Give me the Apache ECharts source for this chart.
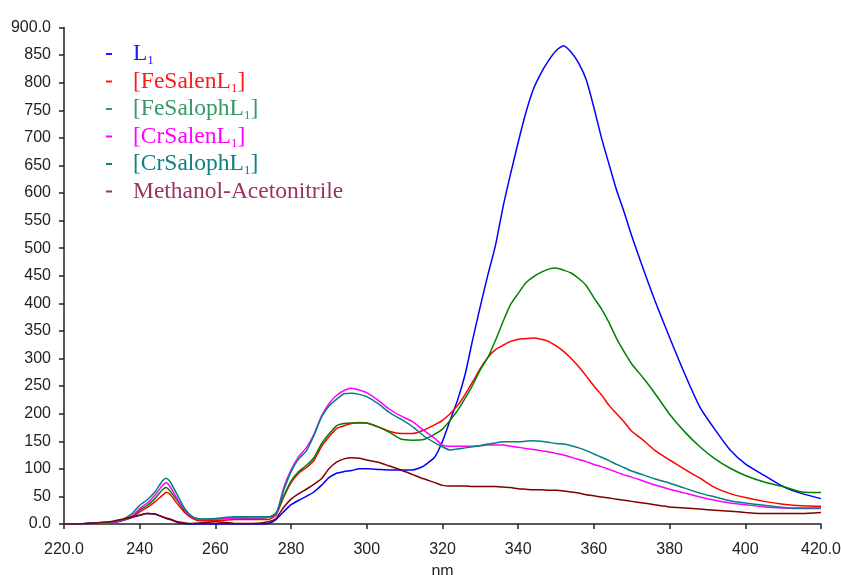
<!DOCTYPE html>
<html>
<head>
<meta charset="utf-8">
<script src="https://cdn.jsdelivr.net/npm/echarts@6/dist/echarts.min.js"></script>
<style>html,body{margin:0;padding:0;background:#fff}#c{width:841px;height:575px}</style>
</head>
<body>
<div id="c"></div>
<script>
const wavelengths = [220,224,228,232,235,238,240,242,244,246,247,248,250,252,254,256,260,265,270,274,276,278,280,282,284,286,288,290,292,294,296,298,300,303,306,309,312,315,318,320,322,324,326,328,330,332,334,336,338,340,342,344,346,348,350,352,354,356,358,360,362,364,366,368,370,373,376,380,384,388,392,396,400,405,410,415,420];

const seriesNames = ['L1','[FeSalenL1]','[FeSalophL1]','[CrSalenL1]','[CrSalophL1]','Methanol-Acetonitrile'];
const lineColors = ['#0000ff','#ff0000','#008000','#ff00ff','#008080','#800000'];
const legendColors = ['#1a1aff','#ff1a1a','#339966','#ff00ff','#0d8080','#993366'];

const valuesL1 = [0,0,2,3,5,12,16,19,18,13,10,8,3,0,0,0,0,0,0,1,8,22,35,43,50,58,70,84,92,95,97,100,100,99,98,98,98,105,122,150,188,225,272,335,395,452,505,575,635,692,745,788,817,840,858,867,855,835,805,755,700,652,605,565,522,463,407,338,272,212,171,134,109,88,68,55,46];
const valuesFeSalen = [0,0,1,2,6,12,22,30,40,52,57,54,36,20,10,6,6,8,8,8,16,48,75,92,102,115,140,158,173,178,182,184,183,176,168,164,164,170,180,188,200,215,235,258,282,302,316,324,331,335,336,337,335,331,323,313,300,285,268,250,234,215,200,185,168,152,134,116,99,83,66,55,48,41,36,33,32];
const valuesFeSaloph = [0,0,1,2,6,13,25,34,46,62,66,60,42,22,12,8,9,11,10,12,20,50,78,95,106,120,145,163,178,182,183,183,183,176,166,154,152,153,163,172,188,206,228,252,280,302,333,367,398,418,437,448,456,462,464,460,455,445,432,410,390,365,336,312,290,265,238,199,167,140,118,101,88,76,68,58,57];
const valuesCrSalen = [0,0,1,2,6,15,28,38,52,70,75,68,45,25,12,8,9,11,11,12,16,65,98,122,138,162,195,218,233,242,246,243,238,224,208,196,186,170,155,143,141,141,141,141,142,143,143,143,141,139,137,135,133,131,128,125,121,117,113,108,104,99,94,89,85,78,71,63,56,49,43,38,35,31,29,28,28];
const valuesCrSaloph = [0,0,2,3,7,19,34,44,58,78,83,77,52,27,13,9,10,13,13,13,18,60,95,118,132,160,193,214,226,236,237,235,231,218,202,190,177,160,147,140,134,136,138,140,142,145,147,149,149,149,150,151,150,148,146,145,142,138,133,127,121,115,108,102,96,89,82,74,65,56,49,42,38,34,30,29,29];
const valuesMethanol = [0,0,2,4,8,13,16,19,18,13,11,9,4,2,1,2,4,1,1,4,10,30,45,55,63,72,82,100,112,118,120,119,116,112,105,98,90,82,75,70,69,69,69,68,68,68,68,67,66,64,63,62,62,61,61,60,58,56,53,51,49,47,45,43,41,38,35,31,29,27,25,23,21,19,19,19,21];

const yTicks = {min: 0, max: 900, interval: 50};
const xTicks = {min: 220, max: 420, interval: 20};

const allValues = [valuesL1, valuesFeSalen, valuesFeSaloph, valuesCrSalen, valuesCrSaloph, valuesMethanol];

const chart = echarts.init(document.getElementById('c'), null, {renderer: 'canvas'});

const series = seriesNames.map((name, i) => ({
  name: name,
  type: 'line',
  showSymbol: false,
  symbol: 'none',
  smooth: 0.2,
  lineStyle: {color: lineColors[i], width: 1.5},
  itemStyle: {color: lineColors[i]},
  data: wavelengths.map((w, j) => [w, allValues[i][j]])
}));

function legendFmt(name) {
  const k = name.indexOf('L1');
  if (k < 0) return '{sp| }{n|' + name + '}';
  return '{sp| }{n|' + name.slice(0, k + 1) + '}{s|1}{n|' + name.slice(k + 2) + '}';
}

chart.setOption({
  animation: false,
  backgroundColor: '#ffffff',
  grid: {left: 64, right: 20, top: 27.5, bottom: 51, containLabel: false, outerBoundsMode: 'none'},
  legend: {
    orient: 'vertical',
    left: 101,
    top: 37,
    itemGap: 2,
    itemWidth: 6,
    itemHeight: 2,
    icon: 'rect',
    selectedMode: false,
    formatter: legendFmt,
    textStyle: {
      fontFamily: 'Liberation Serif',
      fontSize: 23,
      rich: {
        sp: {width: 16, fontSize: 23, lineHeight: 27},
        n: {fontFamily: 'Liberation Serif', fontSize: 23.5, lineHeight: 27},
        s: {fontFamily: 'Liberation Serif', fontSize: 13, lineHeight: 20, verticalAlign: 'bottom'}
      }
    },
    data: seriesNames.map((n, i) => ({
      name: n,
      itemStyle: {color: legendColors[i]},
      textStyle: {color: legendColors[i]}
    }))
  },
  xAxis: {
    type: 'value',
    min: xTicks.min, max: xTicks.max, interval: xTicks.interval,
    name: 'nm',
    nameLocation: 'middle',
    nameGap: 40,
    nameTextStyle: {fontFamily: 'Liberation Sans', fontSize: 16, color: '#222'},
    splitLine: {show: false},
    axisLine: {show: true, onZero: false, lineStyle: {color: '#222', width: 1.5}},
    axisTick: {show: true, length: 5, lineStyle: {color: '#222', width: 1.5}},
    axisLabel: {
      fontFamily: 'Liberation Sans', fontSize: 16, color: '#222', margin: 18,
      formatter: v => (v === xTicks.min || v === xTicks.max) ? v.toFixed(1) : String(v)
    }
  },
  yAxis: {
    type: 'value',
    min: yTicks.min, max: yTicks.max, interval: yTicks.interval,
    splitLine: {show: false},
    axisLine: {show: true, onZero: false, lineStyle: {color: '#222', width: 1.5}},
    axisTick: {show: true, length: 5, lineStyle: {color: '#222', width: 1.5}},
    axisLabel: {
      fontFamily: 'Liberation Sans', fontSize: 16, color: '#222', margin: 13,
      formatter: v => (v === yTicks.min || v === yTicks.max) ? v.toFixed(1) : String(v)
    }
  },
  series: series
});
</script>
</body>
</html>
